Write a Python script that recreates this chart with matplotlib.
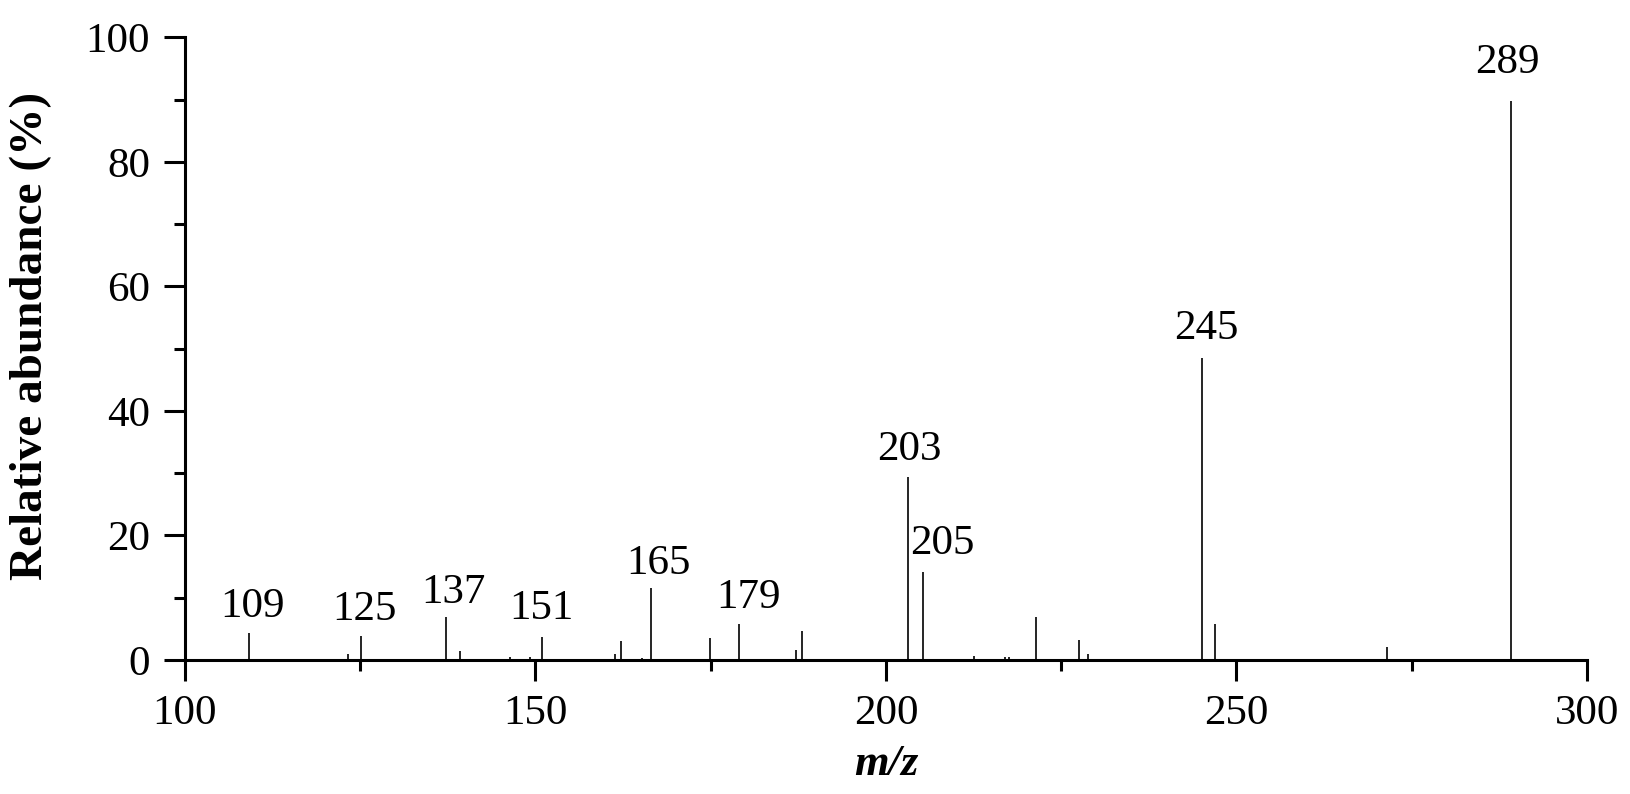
import matplotlib
matplotlib.use("Agg")
import matplotlib.pyplot as plt
from matplotlib.ticker import MultipleLocator

plt.rcParams['font.family'] = ['Liberation Serif', 'DejaVu Serif']

# peak positions (m/z) and relative abundance (%)
mz = [109.1, 123.3, 125.1, 137.3, 139.2, 146.3, 149.2, 150.9, 161.4, 162.2,
      165.2, 166.5, 174.9, 179.1, 187.2, 188.0, 203.1, 205.3, 212.5, 217.0,
      217.6, 221.4, 227.5, 228.8, 245.1, 247.0, 271.5, 289.2]
abundance = [4.3, 0.9, 3.9, 6.9, 1.5, 0.4, 0.4, 3.7, 0.9, 3.0,
             0.3, 11.6, 3.6, 5.7, 1.6, 4.6, 29.4, 14.1, 0.6, 0.4,
             0.4, 6.9, 3.2, 0.9, 48.5, 5.7, 2.1, 89.8]

# labelled peaks: text, x position, height of the peak
label_text = ['109', '125', '137', '151', '165', '179', '203', '205', '245', '289']
label_mz = [109.1, 125.1, 137.3, 150.9, 166.5, 179.1, 203.1, 205.3, 245.1, 289.2]
label_y = [4.3, 3.9, 6.9, 3.7, 11.6, 5.7, 29.4, 14.1, 48.5, 89.8]
label_dx = [0.6, 0.5, 1.0, 0.0, 1.0, 1.3, 0.3, 2.7, 0.6, -0.6]
label_dy = [1.2, 1.0, 0.8, 1.4, 0.8, 1.2, 1.2, 1.4, 1.6, 3.0]

fig = plt.figure(figsize=(16.31, 7.94), dpi=100)
ax = fig.add_axes([0.1134, 0.1688, 0.8596, 0.784])

ax.vlines(mz, 0, abundance, colors='black', linewidth=1.2)

for t, x, y, dx, dy in zip(label_text, label_mz, label_y, label_dx, label_dy):
    ax.text(x + dx, y + dy, t, ha='center', va='bottom', fontsize=31)

ax.set_xlim(100, 300)
ax.set_ylim(0, 100)
ax.xaxis.set_major_locator(MultipleLocator(50))
ax.xaxis.set_minor_locator(MultipleLocator(25))
ax.yaxis.set_major_locator(MultipleLocator(20))
ax.yaxis.set_minor_locator(MultipleLocator(10))

for side in ['top', 'right']:
    ax.spines[side].set_visible(False)
for side in ['left', 'bottom']:
    ax.spines[side].set_linewidth(2.2)

ax.tick_params(which='major', direction='out', length=15, width=2.2, labelsize=31, pad=10)
ax.tick_params(which='minor', direction='out', length=8, width=2.2)

ax.set_xlabel('m/z', fontsize=32, fontweight='bold', style='italic', labelpad=8)
ax.set_ylabel('Relative abundance (%)', fontsize=34, fontweight='bold')
ax.yaxis.set_label_coords(-0.095, 0.52)

fig.savefig('out.png', dpi=100)
